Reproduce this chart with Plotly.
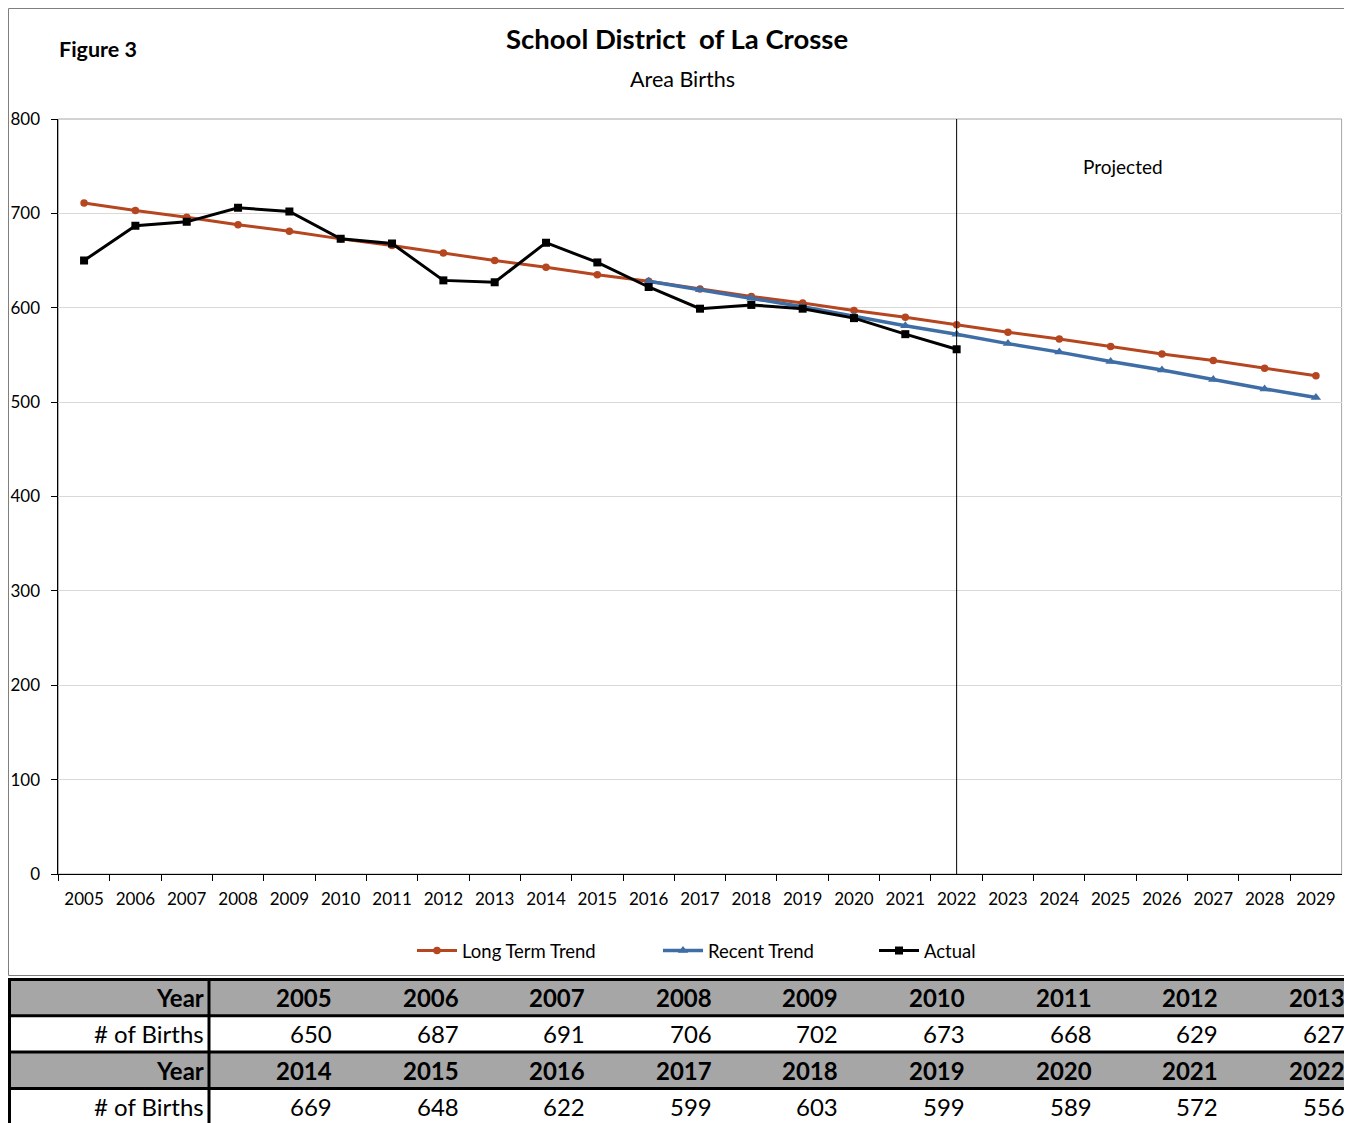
import plotly.graph_objects as go

# ---------------- data ----------------
years = [str(y) for y in range(2005, 2030)]
actual_years = [str(y) for y in range(2005, 2023)]
actual = [650, 687, 691, 706, 702, 673, 668, 629, 627, 669, 648, 622, 599, 603, 599, 589, 572, 556]
long_term = [711, 703, 696, 688, 681, 673, 666, 658, 650, 643, 635, 628, 620, 612, 605, 597,
             590, 582, 574, 567, 559, 551, 544, 536, 528]
recent_years = [str(y) for y in range(2016, 2030)]
recent = [628, 619, 610, 601, 591, 581, 572, 562, 553, 543, 534, 524, 514, 505]
y_ticks = [0, 100, 200, 300, 400, 500, 600, 700, 800]
row_labels = ["Year", "# of Births"]

# ---------------- geometry helpers (page pixels -> paper) ----------------
OX, OY = 8, 8          # default body margin of the page
W, H = 1344, 1115
FONT = "Lato"


def PX(X):
    return (X - OX) / W


def PY(Y):
    return 1 - (Y - OY) / H


ORANGE = "#B5461F"
BLUE = "#3F6DA5"
GRAY = "#A6A6A6"

fig = go.Figure()

fig.add_trace(go.Scatter(
    x=years, y=long_term, name="Long Term Trend", mode="lines+markers",
    line=dict(color=ORANGE, width=3), marker=dict(symbol="circle", size=7.5, color=ORANGE),
    legend="legend"))
fig.add_trace(go.Scatter(
    x=recent_years, y=recent, name="Recent Trend", mode="lines+markers",
    line=dict(color=BLUE, width=3.5), marker=dict(symbol="triangle-up", size=9, color=BLUE),
    legend="legend2"))
fig.add_trace(go.Scatter(
    x=actual_years, y=actual, name="Actual", mode="lines+markers",
    line=dict(color="black", width=3), marker=dict(symbol="square", size=8, color="black"),
    legend="legend3"))

shapes = []
annotations = []

# ---------------- data table (below chart) ----------------
n = 9
TBL_TOP, ROW_H = 979.5, 36.3
TBL_L, TBL_R, COL0_R = 8, 1348, 209
COL_W = 126.6
FIRST_TEXT_R = 334
table_rows = []
for start in range(0, len(actual_years), n):
    table_rows.append((row_labels[0], actual_years[start:start + n], True, GRAY))
    table_rows.append((row_labels[1], [str(v) for v in actual[start:start + n]], False, "white"))

for r, (label, vals, bold, fill) in enumerate(table_rows):
    top = TBL_TOP + r * ROW_H
    bot = top + ROW_H
    mid = (top + bot) / 2
    shapes.append(dict(type="rect", xref="paper", yref="paper", x0=PX(TBL_L), x1=PX(TBL_R),
                       y0=PY(bot), y1=PY(top), fillcolor=fill, line=dict(width=0), layer="below"))
    txt = (lambda s: "<b>%s</b>" % s) if bold else (lambda s: s)
    annotations.append(dict(text=txt(label), x=PX(COL0_R - 3), y=PY(mid), xref="paper", yref="paper",
                            xanchor="right", yanchor="middle", showarrow=False,
                            font=dict(family=FONT, size=24, color="black")))
    for i, v in enumerate(vals):
        annotations.append(dict(text=txt(v), x=PX(FIRST_TEXT_R + i * COL_W), y=PY(mid), xref="paper",
                                yref="paper", xanchor="right", yanchor="middle", showarrow=False,
                                font=dict(family=FONT, size=24, color="black")))

for k in range(len(table_rows) + 1):
    yy = TBL_TOP + k * ROW_H
    shapes.append(dict(type="line", xref="paper", yref="paper", x0=PX(TBL_L), x1=PX(TBL_R),
                       y0=PY(yy), y1=PY(yy), line=dict(color="black", width=3)))
for xx in [TBL_L + 1.5, COL0_R, TBL_R - 1.5]:
    shapes.append(dict(type="line", xref="paper", yref="paper", x0=PX(xx), x1=PX(xx),
                       y0=PY(TBL_TOP - 1.5), y1=0, line=dict(color="black", width=3)))

# ---------------- chart frame ----------------
shapes.append(dict(type="rect", xref="paper", yref="paper", x0=PX(8.5), x1=PX(1349.5), y0=PY(975.5), y1=PY(8.5),
                   line=dict(color="#7F7F7F", width=1), layer="below"))
shapes.append(dict(type="rect", xref="x domain", yref="y domain", x0=0, x1=1, y0=0, y1=1,
                   line=dict(color="#A6A6A6", width=1), layer="below"))
# projection divider at last actual year
shapes.append(dict(type="line", xref="x", yref="y domain", x0=len(actual) - 1, x1=len(actual) - 1, y0=0, y1=1,
                   line=dict(color="black", width=1)))

annotations += [
    dict(text="<b>Figure 3</b>", x=PX(57), y=PY(49), xref="paper", yref="paper", xanchor="left",
         yanchor="middle", showarrow=False, font=dict(family=FONT, size=21.5, color="black")),
    dict(text="<b>School District\u00a0 of La Crosse</b>", x=PX(677), y=PY(39), xref="paper", yref="paper",
         xanchor="center", yanchor="middle", showarrow=False, font=dict(family=FONT, size=27.5, color="black")),
    dict(text="Area Births", x=PX(682), y=PY(79), xref="paper", yref="paper", xanchor="center",
         yanchor="middle", showarrow=False, font=dict(family=FONT, size=21.5, color="black")),
    dict(text="Projected", x=PX(1123), y=PY(166), xref="paper", yref="paper", xanchor="center",
         yanchor="middle", showarrow=False, font=dict(family=FONT, size=19, color="black")),
]

legend_common = dict(orientation="h", xanchor="left", yanchor="middle", bgcolor="rgba(0,0,0,0)",
                     font=dict(family=FONT, size=18.5, color="black"), itemwidth=40)

fig.update_layout(
    width=W, height=H, margin=dict(l=0, r=0, t=0, b=0, pad=0, autoexpand=False),
    paper_bgcolor="white", plot_bgcolor="white",
    font=dict(family=FONT, color="black"),
    showlegend=True,
    legend=dict(x=PX(412), y=PY(951), **legend_common),
    legend2=dict(x=PX(658), y=PY(951), **legend_common),
    legend3=dict(x=PX(874), y=PY(951), **legend_common),
    xaxis=dict(domain=[PX(58.4), PX(1341.6)], type="category", categoryorder="array", categoryarray=years,
               range=[-0.5, len(years) - 0.5], tickson="boundaries", ticks="outside", ticklen=6,
               tickcolor="black", showline=True, linecolor="black", linewidth=1, showgrid=False,
               tickfont=dict(family=FONT, size=17, color="black"), zeroline=False, fixedrange=True,
               ticklabelstandoff=10),
    yaxis=dict(domain=[PY(874), PY(119)], range=[0, 800], tickvals=y_ticks, ticks="outside", ticklen=6,
               tickcolor="black", showline=True, linecolor="black", linewidth=1, showgrid=True,
               gridcolor="#D9D9D9", gridwidth=1, zeroline=False,
               tickfont=dict(family=FONT, size=17, color="black"), ticklabelstandoff=8, fixedrange=True),
    shapes=shapes,
    annotations=annotations,
)

fig.write_html("out.html")
